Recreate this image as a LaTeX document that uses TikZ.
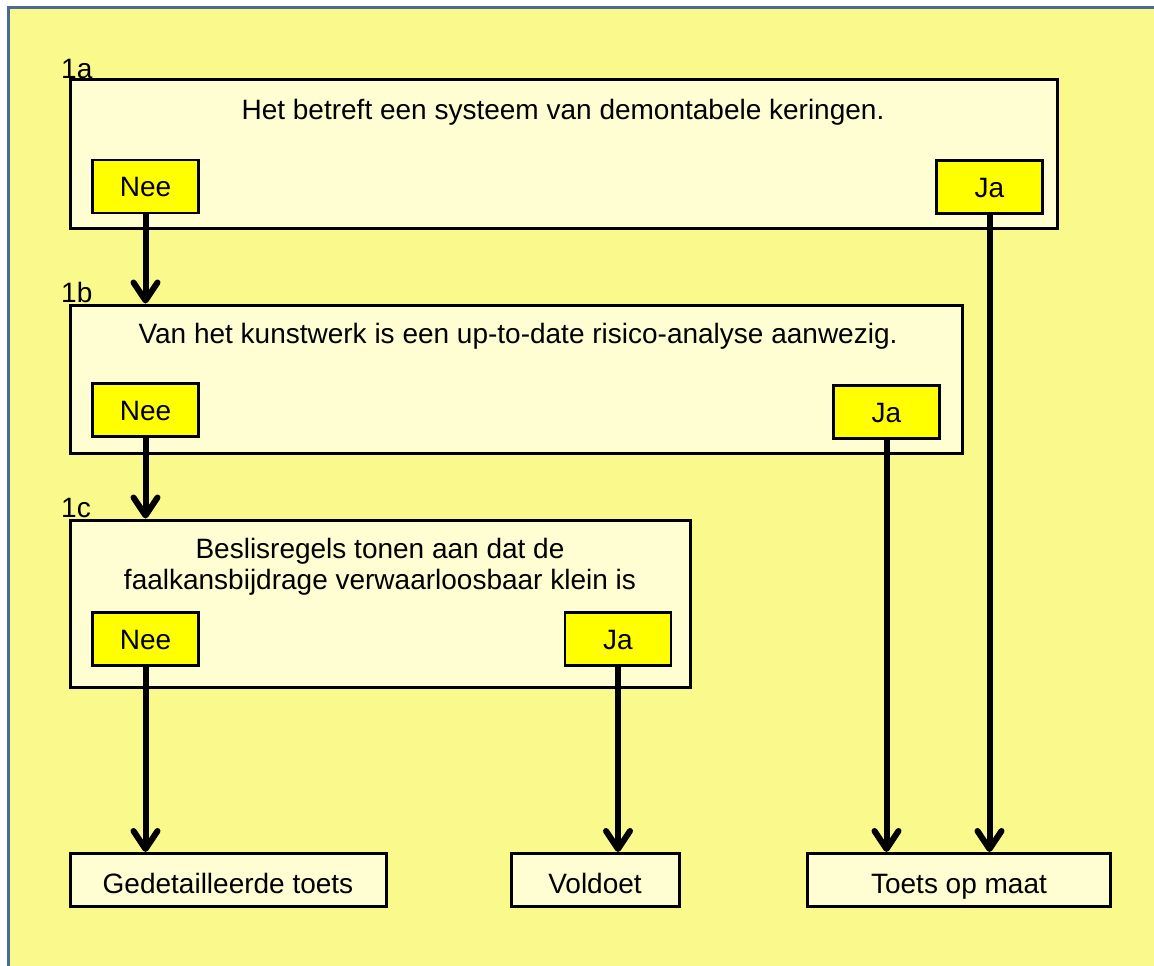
\documentclass[tikz,border=0pt]{standalone}
\usepackage{fontspec}
\setmainfont{Liberation Sans}
\usetikzlibrary{arrows.meta}
\definecolor{pagebg}{RGB}{250,250,140}
\definecolor{boxfill}{RGB}{254,254,210}
\definecolor{choicefill}{RGB}{255,255,0}
\definecolor{framecol}{RGB}{74,106,154}
\begin{document}
\begin{tikzpicture}[x=1pt,y=-1pt,
  every node/.style={font=\fontsize{28}{31}\selectfont, inner sep=0pt},
  panel/.style={draw=black, line width=3pt, fill=boxfill},
  choice/.style={draw=black, line width=2.6pt, fill=choicefill,
    minimum width=106pt, minimum height=53pt, text height=20pt, text depth=0pt},
  result/.style={draw=black, line width=3pt, fill=boxfill, minimum height=53pt,
    text height=26pt, text depth=0pt},
  steplabel/.style={anchor=south west},
  flow/.style={line width=6pt, -{Straight Barb[round,length=18pt,width=24pt]}}]
% page and outer frame
\useasboundingbox (0,0) rectangle (1154,966);
\fill[white] (0,0) rectangle (1154,966);
\fill[pagebg] (8,7) rectangle (1154,966);
\draw[framecol, line width=3.5pt] (8.5,966) -- (8.5,7.5) -- (1154,7.5);

% question 1a
\node[panel, minimum width=987pt, minimum height=148pt] (q1a) at (564,154) {};
\node[steplabel] (l1a) at (61,79) {1a};
\node (t1a) at (563,112) {Het betreft een systeem van demontabele keringen.};
\node[choice] (nee1a) at (145.5,186.5) {Nee};
\node[choice] (ja1a) at (989.5,187) {Ja};

% question 1b
\node[panel, minimum width=892pt, minimum height=148pt] (q1b) at (516,379) {};
\node[steplabel] (l1b) at (61,303) {1b};
\node (t1b) at (518,336) {Van het kunstwerk is een up-to-date risico-analyse aanwezig.};
\node[choice] (nee1b) at (145.5,410) {Nee};
\node[choice] (ja1b) at (886.5,412) {Ja};

% question 1c
\node[panel, minimum width=620pt, minimum height=167pt] (q1c) at (380,603.5) {};
\node[steplabel] (l1c) at (61,518) {1c};
\node[align=center] (t1c) at (380,567) {Beslisregels tonen aan dat de\\faalkansbijdrage verwaarloosbaar klein is};
\node[choice] (nee1c) at (145.5,639) {Nee};
\node[choice] (ja1c) at (618,639) {Ja};

% outcomes
\node[result, minimum width=316pt] (detail) at (228,880) {Gedetailleerde toets};
\node[result, minimum width=168pt] (voldoet) at (595,880) {Voldoet};
\node[result, minimum width=303pt] (maat) at (959,880) {Toets op maat};

% connectors
\draw[flow] (nee1a.south) -- (nee1a.south |- q1b.north);
\draw[flow] (nee1b.south) -- (nee1b.south |- q1c.north);
\draw[flow] (nee1c.south) -- (nee1c.south |- detail.north);
\draw[flow] (ja1c.south) -- (ja1c.south |- voldoet.north);
\draw[flow] (ja1b.south) -- (ja1b.south |- maat.north);
\draw[flow] (ja1a.south) -- (ja1a.south |- maat.north);
\end{tikzpicture}
\end{document}
